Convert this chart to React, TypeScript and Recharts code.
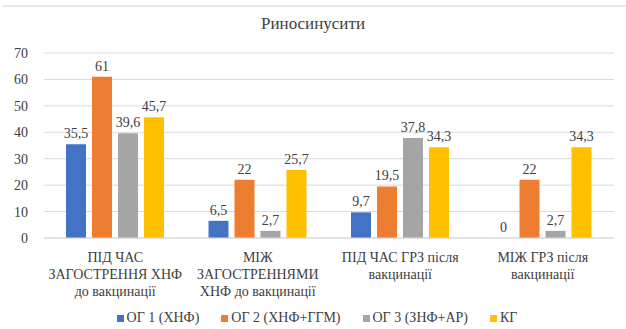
import { Bar, BarChart, CartesianGrid, Legend, XAxis, YAxis } from 'recharts'

const categories = [
  'ПІД ЧАС\nЗАГОСТРЕННЯ ХНФ\nдо вакцинації',
  'МІЖ\nЗАГОСТРЕННЯМИ\nХНФ до вакцинації',
  'ПІД ЧАС ГРЗ після\nвакцинації',
  'МІЖ ГРЗ після\nвакцинації',
]

const og1 = [35.5, 6.5, 9.7, 0]
const og2 = [61, 22, 19.5, 22]
const og3 = [39.6, 2.7, 37.8, 2.7]
const kg = [45.7, 25.7, 34.3, 34.3]

const yTicks = [0, 10, 20, 30, 40, 50, 60, 70]

const series = [
  { key: 'og1', name: 'ОГ 1 (ХНФ)', color: '#4472C4' },
  { key: 'og2', name: 'ОГ 2 (ХНФ+ГГМ)', color: '#ED7D31' },
  { key: 'og3', name: 'ОГ 3 (ЗНФ+АР)', color: '#A5A5A5' },
  { key: 'kg', name: 'КГ', color: '#FFC000' },
]

const data = categories.map((name, i) => ({
  name,
  og1: og1[i],
  og2: og2[i],
  og3: og3[i],
  kg: kg[i],
}))

const font = "'Liberation Serif', 'DejaVu Serif', serif"
const textColor = '#404040'

const fmt = (v: any) => String(v).replace('.', ',')

function CategoryTick({ x, y, payload }: any) {
  const lines = String(payload.value).split('\n')
  return (
    <text x={x} y={y} textAnchor="middle" fill={textColor} fontSize={14} fontFamily={font}>
      {lines.map((line, i) => (
        <tspan key={i} x={x} y={y + 24 + i * 17}>
          {line}
        </tspan>
      ))}
    </text>
  )
}

// value label above each bar, also for zero values
function ValueLabel({ x, y, width, value }: any) {
  return (
    <text
      x={x + width / 2}
      y={y - 6}
      textAnchor="middle"
      fill={textColor}
      fontSize={14}
      fontFamily={font}
    >
      {fmt(value)}
    </text>
  )
}

function LegendBox() {
  return (
    <div
      style={{
        display: 'flex',
        justifyContent: 'center',
        alignItems: 'center',
        height: 22,
        fontFamily: font,
        fontSize: 14,
        color: textColor,
        gap: 22,
        paddingLeft: 20,
      }}
    >
      {series.map((s) => (
        <div key={s.key} style={{ display: 'flex', alignItems: 'center' }}>
          <span style={{ width: 7, height: 7, background: s.color, marginRight: 3 }} />
          <span>{s.name}</span>
        </div>
      ))}
    </div>
  )
}

export default function App() {
  return (
    <div
      style={{
        position: 'fixed',
        left: 0,
        top: 0,
        width: 626,
        height: 329,
        background: '#fff',
      }}
    >
      <div
        style={{
          position: 'absolute',
          left: 3,
          right: 0,
          top: 5,
          borderTop: '2px solid #e8e8e8',
        }}
      />
      <div
        style={{
          position: 'absolute',
          top: 14,
          width: 626,
          textAlign: 'center',
          fontFamily: font,
          fontSize: 17,
          color: textColor,
        }}
      >
        Риносинусити
      </div>
      <BarChart
        width={626}
        height={329}
        data={data}
        margin={{ top: 53, right: 12, left: 0, bottom: 0 }}
        barSize={20}
        barGap={6}
      >
        <CartesianGrid vertical={false} stroke="#d9d9d9" />
        <XAxis
          dataKey="name"
          interval={0}
          height={69}
          tickLine={false}
          tickSize={0}
          tickMargin={0}
          axisLine={{ stroke: '#d9d9d9' }}
          tick={<CategoryTick />}
        />
        <YAxis
          width={44}
          domain={[0, 70]}
          ticks={yTicks}
          axisLine={false}
          tickLine={false}
          tickMargin={10}
          tick={{ fill: textColor, fontSize: 14, fontFamily: font }}
        />
        <Legend verticalAlign="bottom" content={<LegendBox />} />
        {series.map((s) => (
          <Bar
            key={s.key}
            dataKey={s.key}
            name={s.name}
            fill={s.color}
            minPointSize={0.01}
            isAnimationActive={false}
            label={<ValueLabel />}
          />
        ))}
      </BarChart>
    </div>
  )
}
